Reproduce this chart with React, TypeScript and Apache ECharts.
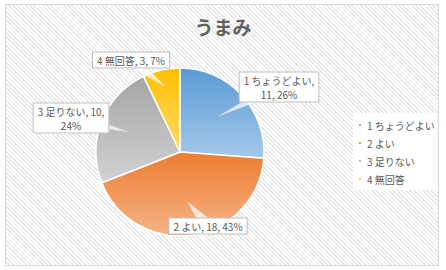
import React, { useEffect, useRef } from "react";
import * as echarts from "echarts";

const TITLE = "うまみ";
const CATEGORIES = ["1 ちょうどよい", "2 よい", "3 足りない", "4 無回答"];
const VALUES = [11, 18, 10, 3];
// where each label text wraps
const WRAP_AFTER = ["name", "none", "value", "none"];

const COLORS_TOP = ["#5B9BD5", "#ED7D31", "#A5A5A5", "#FFC000"];
const COLORS_BOTTOM = ["#A4C8EA", "#F5B488", "#D2D2D2", "#FFDA6A"];
const LABEL_POS: [number, number][] = [
  [279, 87],
  [208, 226],
  [71, 118],
  [131, 60],
];
const PIE_CENTER: [number, number] = [180, 152];
const PIE_RADIUS = 84;
const TIP_RATIO = [0.63, 0.6, 0.66, 0.8];

const FONT = '"Noto Sans CJK JP", "Noto Sans", sans-serif';

export default function App() {
  const ref = useRef<HTMLDivElement>(null);
  useEffect(() => {
    if (!ref.current) return;
    const chart = echarts.init(ref.current, undefined, { renderer: "svg" });
    const total = VALUES.reduce((a, b) => a + b, 0);
    const data = CATEGORIES.map((name, i) => ({
      name,
      value: VALUES[i],
      itemStyle: {
        color: new echarts.graphic.LinearGradient(0, 0, 0, 1, [
          { offset: 0, color: COLORS_TOP[i] },
          { offset: 1, color: COLORS_BOTTOM[i] },
        ]),
      },
    }));
    const labelText = (i: number) => {
      const pct = Math.round((VALUES[i] / total) * 100);
      const name = CATEGORIES[i];
      const v = VALUES[i];
      if (WRAP_AFTER[i] === "name") return `${name},\n${v}, ${pct}%`;
      if (WRAP_AFTER[i] === "value") return `${name}, ${v},\n${pct}%`;
      return `${name}, ${v}, ${pct}%`;
    };
    chart.setOption({
      animation: false,
      textStyle: { fontFamily: FONT },
      title: {
        text: TITLE,
        left: "center",
        top: 12,
        textStyle: { fontSize: 19, fontWeight: "bold", color: "#626262", fontFamily: FONT },
      },
      legend: {
        orient: "vertical",
        left: 353,
        top: 113,
        backgroundColor: "#ffffff",
        padding: [5, 3, 4, 4],
        itemWidth: 4,
        itemHeight: 4,
        itemGap: 4,
        icon: "rect",
        textStyle: { fontSize: 10, color: "#595959", lineHeight: 14, fontFamily: FONT },
        data: CATEGORIES,
      },
      series: [
        {
          type: "pie",
          z: 2,
          center: PIE_CENTER,
          radius: PIE_RADIUS,
          startAngle: 90,
          clockwise: true,
          data,
          itemStyle: { borderColor: "#ffffff", borderWidth: 1.5 },
          label: { show: false },
          labelLine: { show: false },
        },
        {
          type: "custom",
          coordinateSystem: "none",
          z: 5,
          silent: true,
          data: VALUES.map((v, i) => [i, v]),
          renderItem: (params: any) => {
            const i = params.dataIndex;
            let before = 0;
            for (let k = 0; k < i; k++) before += VALUES[k];
            const frac = (before + VALUES[i] / 2) / total;
            const ang = frac * Math.PI * 2;
            const rr = PIE_RADIUS * TIP_RATIO[i];
            const tip = [PIE_CENTER[0] + Math.sin(ang) * rr, PIE_CENTER[1] - Math.cos(ang) * rr];
            const lp = LABEL_POS[i];
            const dx = tip[0] - lp[0];
            const dy = tip[1] - lp[1];
            const len = Math.sqrt(dx * dx + dy * dy) || 1;
            const nx = -dy / len;
            const ny = dx / len;
            const hw = 6.5;
            return {
              type: "group",
              children: [
                {
                  type: "polygon",
                  shape: {
                    points: [
                      tip,
                      [lp[0] + nx * hw, lp[1] + ny * hw],
                      [lp[0] - nx * hw, lp[1] - ny * hw],
                    ],
                  },
                  style: { fill: "rgba(255,255,255,0.72)", stroke: "rgba(210,210,210,0.6)", lineWidth: 0.5 },
                },
                {
                  type: "text",
                  x: lp[0],
                  y: lp[1],
                  style: {
                    text: labelText(i),
                    fill: "#595959",
                    font: `10px ${FONT}`,
                    lineHeight: 14,
                    align: "center",
                    verticalAlign: "middle",
                    backgroundColor: "#ffffff",
                    borderColor: "#bfbfbf",
                    borderWidth: 1,
                    padding: [1, 4, 0, 4],
                  },
                },
              ],
            };
          },
        },
      ],
    });
    return () => chart.dispose();
  }, []);
  return (
    <div style={{ position: "fixed", left: 0, top: 0, width: 446, height: 270, background: "#ffffff" }}>
      <div
        style={{
          position: "absolute",
          left: 5,
          top: 4,
          width: 432,
          height: 260,
          border: "1px solid #d9d9d9",
          background:
            "repeating-linear-gradient(45deg, #ffffff 0px, #ffffff 1.8px, #e6e6e6 1.8px, #e6e6e6 3px)",
        }}
      />
      <div ref={ref} style={{ position: "absolute", left: 0, top: 0, width: 446, height: 270 }} />
    </div>
  );
}
